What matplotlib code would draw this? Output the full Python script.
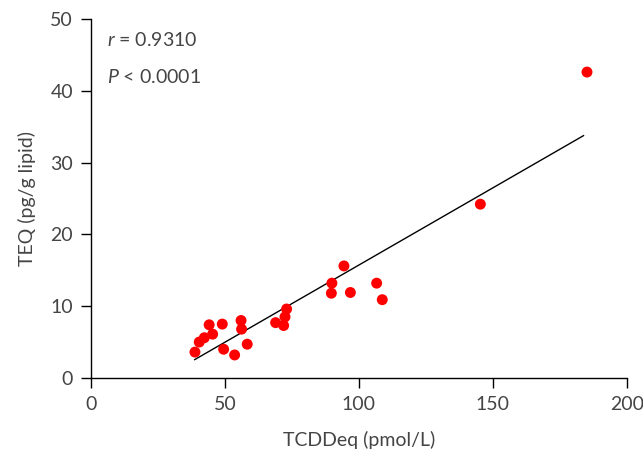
import matplotlib
matplotlib.use("Agg")
import matplotlib.pyplot as plt
import numpy as np

tcdd = [38.8, 40.4, 42.3, 44.1, 45.4, 49.0, 49.5, 53.6, 56.0, 56.2, 58.3,
        68.9, 71.9, 72.4, 73.0, 89.7, 89.9, 94.4, 96.8, 106.6, 108.7, 145.3, 185.1]
teq = [3.6, 5.0, 5.6, 7.4, 6.1, 7.5, 4.0, 3.2, 8.0, 6.8, 4.7,
       7.7, 7.3, 8.5, 9.6, 11.8, 13.2, 15.6, 11.9, 13.2, 10.9, 24.2, 42.6]

fit_x = [38.7, 183.8]
fit_slope = 0.215
fit_intercept = -5.77

xticks = [0, 50, 100, 150, 200]
yticks = [0, 10, 20, 30, 40, 50]

plt.rcParams['font.family'] = ['Lato', 'DejaVu Sans']
plt.rcParams['mathtext.fontset'] = 'custom'
plt.rcParams['mathtext.rm'] = 'Lato'
plt.rcParams['mathtext.it'] = 'Lato:italic'
txt = '#454545'
fs = 14

fig = plt.figure(figsize=(6.43, 4.51), dpi=100)
ax = fig.add_axes([0.1415, 0.162, 0.8335, 0.796])

ax.scatter(tcdd, teq, s=62, color='#ff0000', edgecolors='none', zorder=3, clip_on=False)
fx = np.array(fit_x)
ax.plot(fx, fit_slope * fx + fit_intercept, color='black', lw=1.0, zorder=2)

ax.set_xlim(0, 200)
ax.set_ylim(0, 50)
ax.set_xticks(xticks)
ax.set_yticks(yticks)
ax.spines['top'].set_visible(False)
ax.spines['right'].set_visible(False)
for s in ['left', 'bottom']:
    ax.spines[s].set_linewidth(1.0)
ax.tick_params(direction='out', length=7, width=1.0, labelsize=fs, labelcolor=txt, pad=6)

ax.set_xlabel('TCDDeq (pmol/L)', fontsize=fs, color=txt, labelpad=13)
ax.set_ylabel('TEQ (pg/g lipid)', fontsize=fs, color=txt, labelpad=10)

ax.text(6, 47.1, r'$\it{r}$ = 0.9310', fontsize=fs, color=txt, va='center', ha='left')
ax.text(6, 41.9, r'$\it{P}$ < 0.0001', fontsize=fs, color=txt, va='center', ha='left')

fig.savefig('out.png', dpi=100)
